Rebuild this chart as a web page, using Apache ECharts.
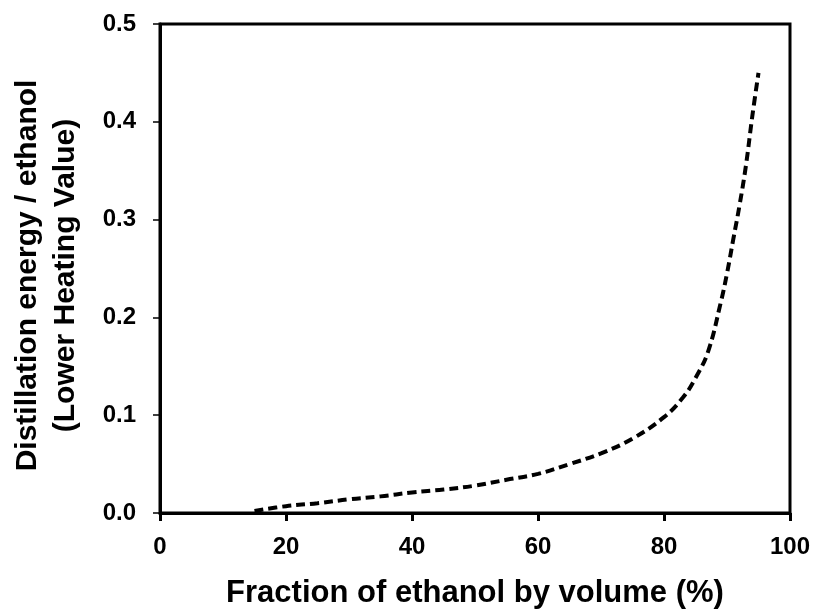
<!DOCTYPE html>
<html>
<head>
<meta charset="utf-8">
<script src="https://cdn.jsdelivr.net/npm/echarts@6/dist/echarts.min.js"></script>
<style>
  html, body { margin: 0; padding: 0; background: #fff; }
  #chart { width: 815px; height: 612px; }
</style>
</head>
<body>
<div id="chart"></div>
<script>
// Ethanol volume fraction (%) and distillation energy as a fraction of ethanol LHV
const ethanolPct = [15, 20, 25, 30, 35, 40, 45, 50, 55, 60, 65, 70, 75, 80, 83, 85, 87, 89, 90, 91, 92, 93, 94, 95];
const energyRatio = [0.002, 0.007, 0.010, 0.014, 0.017, 0.021, 0.024, 0.028, 0.034, 0.040, 0.050, 0.061, 0.076, 0.098, 0.118, 0.138, 0.165, 0.215, 0.245, 0.280, 0.315, 0.355, 0.405, 0.450];

const xTicks = [0, 20, 40, 60, 80, 100];
const yTicks = [0.0, 0.1, 0.2, 0.3, 0.4, 0.5];

const FONT = '"Liberation Sans", Arial, sans-serif';

const chart = echarts.init(document.getElementById('chart'), null, { renderer: 'canvas' });

chart.setOption({
  animation: false,
  backgroundColor: '#fff',
  grid: {
    left: 160, right: 25, top: 24, bottom: 99,
    outerBoundsMode: 'none',
    containLabel: false,
    show: true, borderColor: '#000', borderWidth: 3, backgroundColor: 'transparent'
  },
  xAxis: {
    type: 'value',
    min: xTicks[0], max: xTicks[xTicks.length - 1], interval: 20,
    name: 'Fraction of ethanol by volume (%)',
    nameLocation: 'middle', nameGap: 65,
    nameTextStyle: { fontFamily: FONT, fontWeight: 'bold', fontSize: 31, color: '#000' },
    axisLine: { show: true, onZero: false, lineStyle: { color: '#000', width: 3 } },
    axisTick: { show: true, inside: false, length: 8, lineStyle: { color: '#000', width: 3 } },
    axisLabel: { fontFamily: FONT, fontWeight: 'bold', fontSize: 24, color: '#000', margin: 22 },
    splitLine: { show: false }
  },
  yAxis: {
    type: 'value',
    min: yTicks[0], max: yTicks[yTicks.length - 1], interval: 0.1,
    name: 'Distillation energy / ethanol\n(Lower Heating Value)',
    nameLocation: 'middle', nameGap: 75,
    nameTextStyle: {
      fontFamily: FONT, fontWeight: 'bold', fontSize: 30, color: '#000', lineHeight: 38,
      padding: [0, 14, 0, 0]
    },
    axisLine: { show: true, onZero: false, lineStyle: { color: '#000', width: 3 } },
    axisTick: { show: true, inside: false, length: 7, lineStyle: { color: '#000', width: 1.5 } },
    axisLabel: {
      fontFamily: FONT, fontWeight: 'bold', fontSize: 24, color: '#000', margin: 24,
      formatter: v => v.toFixed(1)
    },
    splitLine: { show: false }
  },
  series: [{
    type: 'line',
    data: ethanolPct.map((x, i) => [x, energyRatio[i]]),
    smooth: 0.4,
    showSymbol: false,
    symbol: 'none',
    lineStyle: { color: '#000', width: 4, type: [9, 5] }
  }]
});
</script>
</body>
</html>
